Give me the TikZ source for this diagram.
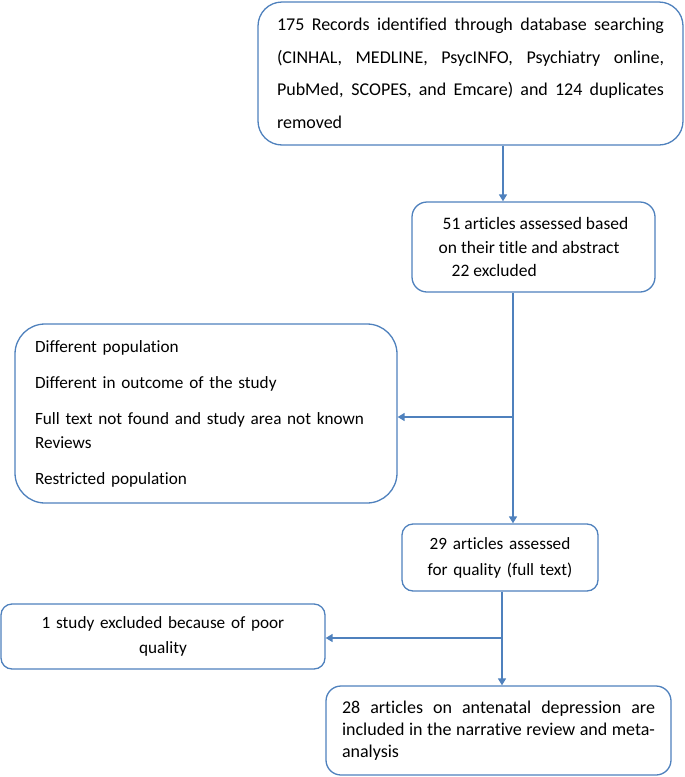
\documentclass[tikz,border=0pt]{standalone}
\usepackage{fontspec}
\setmainfont{Carlito}[Ligatures=NoCommon]
\usetikzlibrary{arrows.meta}
\definecolor{lineblue}{HTML}{4F81BD}
\tikzset{
  box/.style={draw=lineblue, line width=1.3pt, fill=white, inner sep=0pt, text=black},
  arr/.style={draw=lineblue, line width=1.5pt, -{Triangle[length=7pt,width=8pt]}},
}
\begin{document}
\begin{tikzpicture}[x=1pt,y=-1pt]
\useasboundingbox (0,0) rectangle (685,777);
% boxes
\node[box, rounded corners=24pt, minimum width=425pt, minimum height=143pt,
  text width=387pt, align=justify, font=\fontsize{18}{32.5}\selectfont] (b1) at (470.5,73.5)
  {175 Records identified through database searching\linebreak
   (CINHAL, MEDLINE, PsycINFO, Psychiatry online,\linebreak
   PubMed, SCOPES, and Emcare) and 124 duplicates\linebreak
   removed};
\node[box, rounded corners=15pt, minimum width=243pt, minimum height=90pt,
  align=left, font=\fontsize{17.5}{23.5}\selectfont] (b2) at (533.5,247)
  {\hspace*{4pt}51 articles assessed based\\
   on their title and abstract\\
   \hspace*{13pt}22 excluded};
\node[box, rounded corners=30pt, minimum width=382pt, minimum height=179pt,
  text width=342pt, align=left, font=\fontsize{17.2}{24}\selectfont] (b3) at (206,413.5)
  {Different population\\[12pt]
   Different in outcome of the study\\[12pt]
   Full text not found and study area not known\\
   Reviews\\[12pt]
   Restricted population};
\node[box, rounded corners=11pt, minimum width=196pt, minimum height=67pt,
  text width=180pt, align=center, font=\fontsize{17.2}{26}\selectfont] (b4) at (500,557.5)
  {29 articles assessed\\for quality (full text)};
\node[box, rounded corners=11pt, minimum width=324pt, minimum height=65pt,
  text width=300pt, align=center, font=\fontsize{17.2}{25}\selectfont] (b5) at (163,636.5)
  {1 study excluded because of poor\\quality};
\node[box, rounded corners=15pt, minimum width=345pt, minimum height=89pt,
  text width=313pt, align=justify, font=\fontsize{18}{22}\selectfont] (b6) at (498.5,730.5)
  {28 articles on antenatal depression are\linebreak
   included in the narrative review and meta-\linebreak
   analysis};
% connector guides
\coordinate (c1) at (503,0);
\coordinate (c2) at (513,0);
\coordinate (c3) at (502,0);
\coordinate (j1) at (513,417);
\coordinate (j2) at (502,638);
% connectors
\draw[arr] (b1.south -| c1) -- (b2.north -| c1);
\draw[arr] (b2.south -| c2) -- (b4.north -| c2);
\draw[arr] (j1) -- (j1 -| b3.east);
\draw[arr] (b4.south -| c3) -- (b6.north -| c3);
\draw[arr] (j2) -- (j2 -| b5.east);
\end{tikzpicture}
\end{document}
